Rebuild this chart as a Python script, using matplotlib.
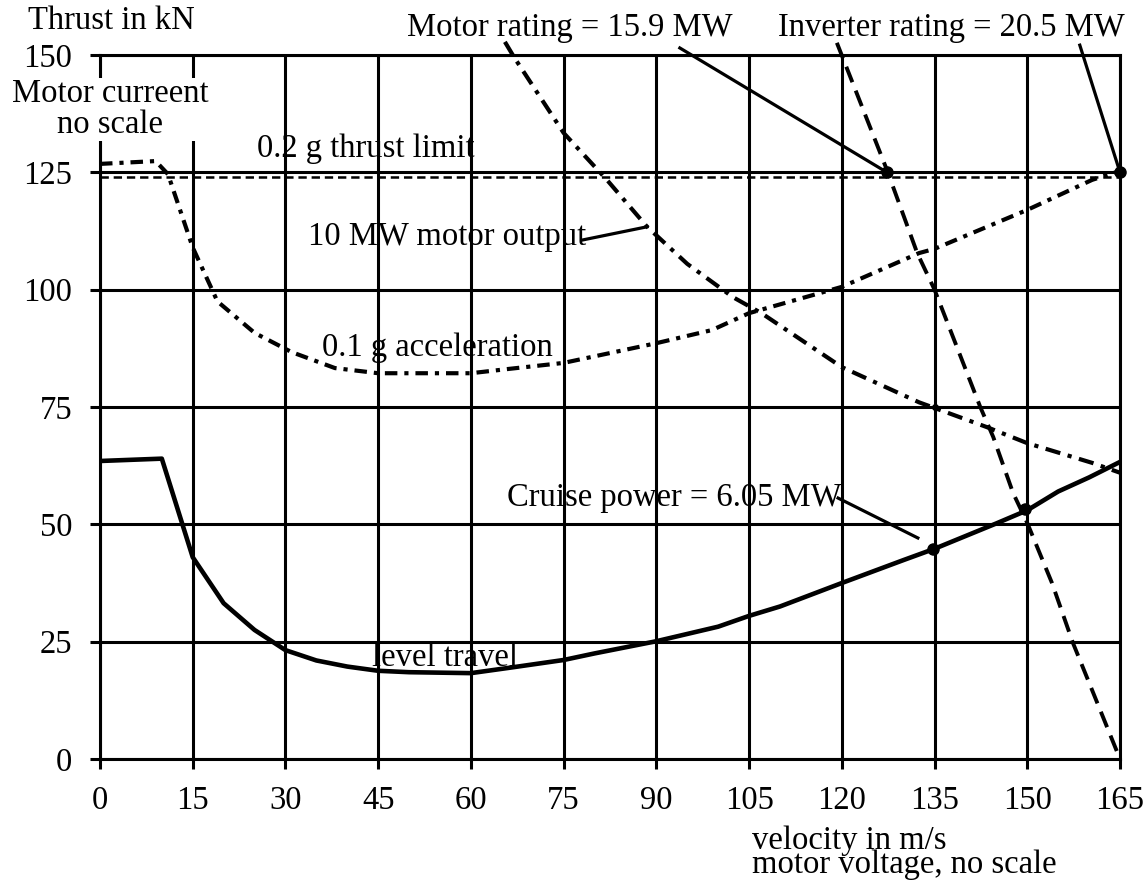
import matplotlib
matplotlib.use('Agg')
import matplotlib.pyplot as plt

plt.rcParams['font.family'] = ['Liberation Serif', 'DejaVu Serif']
plt.rcParams['lines.scale_dashes'] = False

# ---- data ----
x_ticks = [0, 15, 30, 45, 60, 75, 90, 105, 120, 135, 150, 165]
y_ticks = [0, 25, 50, 75, 100, 125, 150]

level_v = [0, 10, 15, 20, 25, 30, 35, 40, 45, 50, 60, 66, 75, 80, 90, 100, 105,
           110, 120, 130, 135, 140, 145, 150, 155, 160, 165]
level_t = [63.5, 64, 43, 33.2, 27.5, 23.2, 21, 19.7, 18.8, 18.5, 18.3, 19.4, 21.1,
           22.5, 25.1, 28.2, 30.5, 32.5, 37.5, 42.4, 44.8, 47.5, 50.2, 53, 57, 60, 63.3]

accel_v = [0, 9, 11, 15, 19, 25, 31, 38, 45, 60, 66, 75, 90, 99, 105, 120,
           132.5, 135, 150, 160.5, 165]
accel_t = [126.8, 127.4, 124.6, 109, 97.5, 90.8, 86.7, 83.3, 82.2, 82.2, 83.1,
           84.4, 88.6, 91.4, 95, 100.6, 107.8, 108.7, 117, 123.4, 125.3]

mw10_v = [65.5, 67, 75, 82, 88.5, 95, 102.4, 107, 120, 132.5, 135, 143.5, 150,
          160.5, 165]
mw10_t = [152.8, 149.5, 133.4, 123.4, 113.4, 105.5, 98.4, 95, 83.5, 76, 74.8,
          70.7, 67.3, 63.1, 61]

inv_v = [119.2, 127.3, 132.2, 135, 139, 142.4, 144.5, 147.7, 150, 154, 157.4,
         160.7, 165]
inv_t = [152.6, 125.5, 107.8, 100, 86.5, 75, 68.6, 56.7, 50.3, 37.5, 24.7, 14, 0]

limit_v = [0, 165]
limit_t = [124, 124]

dot_v = [127.3, 165, 134.8, 149.6]
dot_t = [125, 125, 44.8, 53.2]
small_dot_v = [135]
small_dot_t = [75]

# ---- figure ----
fig = plt.figure(figsize=(11.48, 8.83), dpi=100)
ax = fig.add_axes([0.0871, 0.1404, 0.8885, 0.7973])
ax.set_xlim(0, 165)
ax.set_ylim(0, 150)

FS = 23.5
GLW = 2.2

ax.set_xticks(x_ticks)
ax.set_yticks(y_ticks)
ax.tick_params(axis='both', direction='out', length=7, width=GLW,
               labelsize=FS, color='black')
ax.tick_params(axis='y', pad=13)
ax.tick_params(axis='x', pad=12)
ax.grid(True, color='black', linewidth=GLW)
ax.set_axisbelow(False)
for sp in ax.spines.values():
    sp.set_linewidth(GLW)
for gl in ax.get_xgridlines() + ax.get_ygridlines():
    gl.set_zorder(2.5)

# curves
ax.plot(level_v, level_t, color='black', lw=3.3, solid_joinstyle='round', zorder=2.3)
ax.plot(limit_v, limit_t, color='black', lw=1.8, dashes=(6, 3.5), zorder=2)
ax.plot(accel_v, accel_t, color='black', lw=3.0, dashes=(9, 5, 3, 5), zorder=2)
ax.plot(mw10_v, mw10_t, color='black', lw=3.0, dashes=(11, 5.5, 3, 5.5), zorder=2,
        clip_on=False)
ax.plot(inv_v, inv_t, color='black', lw=2.8, dashes=(12, 6.5), zorder=2, clip_on=False)

ax.plot(dot_v, dot_t, 'o', color='black', ms=8, zorder=4, clip_on=False)
ax.plot(small_dot_v, small_dot_t, 'o', color='black', ms=4, zorder=4)

# leader lines
leader_kw = dict(color='black', lw=2.3, clip_on=False, zorder=4)
ax.plot([93.8, 127.3], [151.5, 125], **leader_kw)
ax.plot([158.5, 165], [152.1, 125], **leader_kw)
ax.plot([119.4, 132.3], [55.6, 47.1], **leader_kw)
ax.plot([78.1, 88.5], [110.6, 113.4], **leader_kw)

# texts
ax.text(1.8, 157.2, 'Thrust in kN', fontsize=FS, ha='center', va='center', clip_on=False)
ax.text(1.6, 138.4, 'Motor curreent\nno scale', fontsize=FS, ha='center', va='center',
        linespacing=1.0, zorder=5,
        bbox=dict(facecolor='white', edgecolor='none', pad=1))
ax.text(25.4, 130.0, '0.2 g thrust limit', fontsize=FS, ha='left', va='center')
ax.text(33.6, 111.2, '10 MW motor output', fontsize=FS, ha='left', va='center')
ax.text(35.9, 87.6, '0.1 g acceleration', fontsize=FS, ha='left', va='center')
ax.text(44.0, 21.6, 'level travel', fontsize=FS, ha='left', va='center', zorder=2.2,
        bbox=dict(facecolor='white', edgecolor='none', pad=0.3))
ax.text(65.8, 55.6, 'Cruise power = 6.05 MW', fontsize=FS, ha='left', va='center')
ax.text(49.7, 155.8, 'Motor rating = 15.9 MW', fontsize=FS, ha='left', va='center',
        clip_on=False)
ax.text(109.7, 155.8, 'Inverter rating = 20.5 MW', fontsize=FS, ha='left', va='center',
        clip_on=False)
ax.text(105.5, -19.9, 'velocity in m/s\nmotor voltage, no scale', fontsize=FS,
        ha='left', va='center', linespacing=0.71, clip_on=False)

fig.savefig('out.png', dpi=100)
